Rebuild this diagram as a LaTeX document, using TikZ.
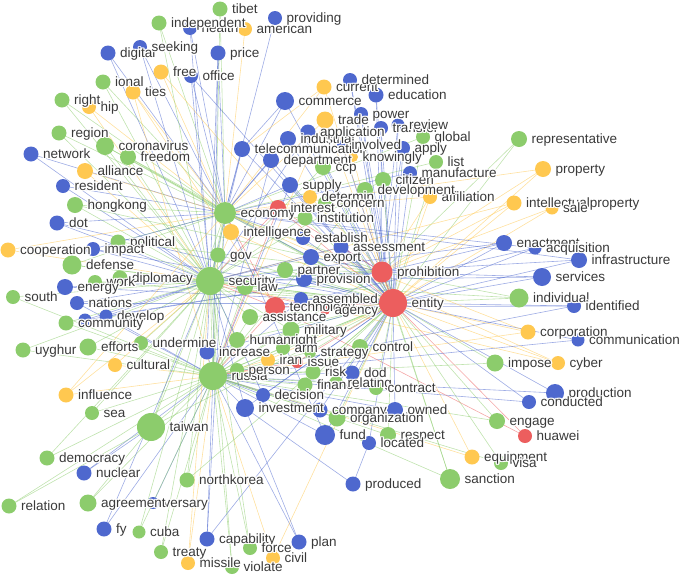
\documentclass[tikz,border=0pt]{standalone}
\usepackage{fontspec}
\setmainfont{Liberation Sans}
\usetikzlibrary{calc}
\definecolor{cG}{RGB}{140,204,108}
\definecolor{cB}{RGB}{78,104,206}
\definecolor{cY}{RGB}{255,200,80}
\definecolor{cR}{RGB}{236,94,94}
\definecolor{txt}{RGB}{58,58,58}
\pgfdeclarelayer{bg}\pgfdeclarelayer{fg}\pgfsetlayers{bg,main,fg}
\newcommand{\hlc}[3]{\rlap{\kern#1\raisebox{#2}{\textcolor{white}{#3}}}}
\newcommand{\hl}[1]{\hlc{1.4pt}{0pt}{#1}\hlc{-1.4pt}{0pt}{#1}\hlc{0pt}{1.4pt}{#1}\hlc{0pt}{-1.4pt}{#1}\hlc{1pt}{1pt}{#1}\hlc{-1pt}{1pt}{#1}\hlc{1pt}{-1pt}{#1}\hlc{-1pt}{-1pt}{#1}#1}
\tikzset{
  dotnode/.style={circle, draw=none, inner sep=0pt, outer sep=0pt},
  lbl/.style={anchor=west, inner sep=0pt, text=txt, font=\fontsize{13.5}{15}\selectfont, text height=11pt, text depth=2pt},
  edgeS/.style={line width=0.6pt, draw opacity=0.55}
}
\newcommand{\nd}[6]{%
  \node[dotnode, fill=#4, minimum size=#5*2pt] (#1) at (#2,#3) {};%
  \expandafter\gdef\csname colX#1\endcsname{#4}%
  \begin{pgfonlayer}{fg}\node[lbl] (#1-l) at ([xshift=4.5pt]#1.east) {\hl{#6}};\end{pgfonlayer}%
}
\newcommand{\E}[2]{\draw[edgeS, draw=\csname colX#1\endcsname] (#1) -- (#2);}
\begin{document}
\begin{tikzpicture}[x=1pt,y=-1pt]
\useasboundingbox (0,0) rectangle (685,576);
% hubs
\nd{economy}{225}{213}{cG}{11}{economy}
\nd{interest}{278}{208}{cR}{8}{interest}
\nd{security}{210}{281}{cG}{14}{security}
\nd{russia}{213}{376}{cG}{14}{russia}
\nd{prohibition}{382}{272}{cR}{10.5}{prohibition}
\nd{entity}{393}{303}{cR}{14}{entity}
% top left
\nd{tibet}{220}{9}{cG}{7.5}{tibet}
\nd{health}{190}{28}{cB}{7}{health}
\nd{independent}{159}{23}{cG}{7.5}{independent}
\nd{american}{245}{29}{cY}{7}{american}
\nd{providing}{275}{18}{cB}{7}{providing}
\nd{digital}{108}{53}{cB}{7.5}{digital}
\nd{seeking}{140}{47}{cB}{7}{seeking}
\nd{price}{218}{53}{cB}{7.5}{price}
\nd{office}{191}{76}{cB}{7}{office}
\nd{free}{161}{72}{cY}{7.5}{free}
\nd{ties}{133}{92}{cY}{7.5}{ties}
\nd{ional}{103}{82}{cG}{7.5}{ional}
\nd{hip}{89}{107}{cY}{7}{hip}
\nd{nright}{62}{100}{cG}{7.5}{right}
\nd{region}{59}{133}{cG}{7.5}{region}
\nd{coronavirus}{105}{146}{cG}{9}{coronavirus}
\nd{network}{31}{154}{cB}{7.5}{network}
\nd{freedom}{128}{157}{cG}{8}{freedom}
\nd{alliance}{85}{171}{cY}{8}{alliance}
\nd{resident}{63}{186}{cB}{7}{resident}
% left
\nd{hongkong}{75}{205}{cG}{8}{hongkong}
\nd{dot}{57}{223}{cB}{7.5}{dot}
\nd{political}{118}{242}{cG}{7.5}{political}
\nd{cooperation}{8}{250}{cY}{7.5}{cooperation}
\nd{impact}{93}{249}{cB}{7}{impact}
\nd{defense}{72}{265}{cG}{9.5}{defense}
\nd{diplomacy}{120}{278}{cG}{7.5}{diplomacy}
\nd{work}{95}{282}{cG}{7}{work}
\nd{energy}{65}{287}{cB}{8}{energy}
\nd{nsouth}{13}{297}{cG}{7}{south}
\nd{nations}{77}{303}{cB}{7}{nations}
\nd{develop}{106}{316}{cB}{6.5}{develop}
\node[dotnode, fill=cB, minimum size=13pt] (commc) at (85,320) {};
\expandafter\gdef\csname colXcommc\endcsname{cB}
\nd{community}{66}{323}{cG}{7.5}{community}
\nd{uyghur}{23}{350}{cG}{7.5}{uyghur}
\nd{efforts}{88}{347}{cG}{8.5}{efforts}
\nd{undermine}{141}{343}{cG}{7}{undermine}
\nd{cultural}{115}{365}{cY}{7}{cultural}
% bottom left
\nd{influence}{66}{395}{cY}{7.5}{influence}
\nd{sea}{92}{413}{cG}{7}{sea}
\nd{taiwan}{151}{427}{cG}{14}{taiwan}
\nd{democracy}{47}{458}{cG}{7.5}{democracy}
\nd{nuclear}{84}{473}{cB}{7.5}{nuclear}
\nd{northkorea}{187}{480}{cG}{7.5}{northkorea}
\nd{relation}{9}{506}{cG}{7.5}{relation}
\nd{anniv}{153}{503}{cB}{6}{versary}
\nd{agreement}{88}{503}{cG}{8.5}{agreement}
\nd{fy}{104}{529}{cB}{7.5}{fy}
\nd{cuba}{139}{532}{cG}{6.5}{cuba}
\nd{treaty}{161}{552}{cG}{7}{treaty}
\nd{capability}{207}{539}{cB}{7.5}{capability}
\nd{missile}{188}{563}{cY}{7}{missile}
\nd{force}{250}{548}{cG}{7}{force}
\nd{violate}{232}{567}{cG}{7}{violate}
\nd{civil}{273}{558}{cY}{7}{civil}
\nd{plan}{299}{542}{cB}{7.5}{plan}
\nd{produced}{353}{484}{cB}{7.5}{produced}
% bottom centre
\nd{decision}{263}{395}{cB}{7}{decision}
\nd{investment}{245}{408}{cB}{9}{investment}
\nd{finance}{305}{385}{cG}{7.5}{finance}
\nd{relating}{336}{383}{cG}{7}{relating}
\nd{contract}{376}{388}{cG}{7}{contract}
\nd{company}{320}{410}{cB}{7.5}{company}
\nd{organization}{337}{418}{cG}{8.5}{organization}
\nd{owned}{395}{410}{cB}{8}{owned}
\nd{fund}{325}{435}{cB}{10}{fund}
\nd{respect}{388}{435}{cG}{8}{respect}
\nd{located}{369}{443}{cB}{7}{located}
% centre
\nd{gov}{218}{255}{cG}{7.5}{gov}
\nd{law}{245}{287}{cG}{8}{law}
\nd{intelligence}{231}{232}{cY}{8}{intelligence}
\nd{institution}{305}{218}{cG}{7.5}{institution}
\nd{establish}{303}{238}{cB}{7}{establish}
\nd{assessment}{341}{247}{cB}{7.5}{assessment}
\nd{export}{311}{257}{cB}{8}{export}
\nd{partner}{285}{270}{cG}{8}{partner}
\nd{provision}{304}{279}{cB}{8}{provision}
\nd{technology}{275}{307}{cR}{10}{technology}
\nd{assembled}{301}{299}{cB}{7}{assembled}
\nd{agency}{325}{310}{cR}{5}{agency}
\nd{assistance}{250}{317}{cG}{8}{assistance}
\nd{military}{291}{330}{cG}{8.5}{military}
\nd{humanright}{237}{340}{cG}{8}{humanright}
\nd{increase}{207}{352}{cB}{7.5}{increase}
\nd{arm}{283}{348}{cG}{7}{arm}
\nd{strategy}{310}{352}{cG}{6}{strategy}
\nd{control}{360}{347}{cG}{8}{control}
\nd{iran}{268}{360}{cY}{7}{iran}
\nd{issue}{297}{362}{cR}{6}{issue}
\nd{person}{237}{370}{cG}{7}{person}
\nd{risk}{313}{372}{cG}{7.5}{risk}
\nd{dod}{352}{373}{cB}{7.5}{dod}
% top middle
\nd{commerce}{285}{101}{cB}{9}{commerce}
\nd{current}{324}{87}{cY}{7.5}{current}
\nd{determined}{350}{80}{cB}{7}{determined}
\nd{education}{376}{95}{cB}{7.5}{education}
\nd{trade}{325}{120}{cY}{8.5}{trade}
\nd{power}{361}{114}{cB}{7}{power}
\nd{transfer}{381}{128}{cB}{7}{transfer}
\nd{global}{423}{137}{cG}{7}{global}
\nd{review}{398}{125}{cB}{6.5}{review}
\nd{industrial}{288}{139}{cB}{8}{industrial}
\nd{application}{308}{132}{cB}{7.5}{application}
\nd{telecom}{242}{149}{cB}{8}{telecommunication}
\nd{department}{271}{160}{cB}{8}{department}
\nd{ccp}{323}{167}{cG}{8}{ccp}
\nd{involved}{342}{145}{cB}{5}{involved}
\nd{knowingly}{353}{157}{cY}{5}{knowingly}
\nd{apply}{403}{148}{cB}{7}{apply}
\nd{list}{436}{162}{cG}{7}{list}
\nd{citizen}{383}{180}{cG}{8}{citizen}
\nd{manufacture}{410}{173}{cB}{7}{manufacture}
\nd{supply}{290}{185}{cB}{8}{supply}
\nd{affiliation}{430}{197}{cY}{7}{affiliation}
\nd{determin}{310}{197}{cY}{7}{determin}
\nd{concern}{325}{203}{cG}{7}{concern}
\nd{development}{365}{190}{cG}{8}{development}
% right
\nd{representative}{519}{139}{cG}{8}{representative}
\nd{property}{543}{169}{cY}{8}{property}
\nd{intellectualproperty}{514}{203}{cY}{7.5}{intellectualproperty}
\nd{sale}{552}{208}{cY}{6.5}{sale}
\nd{enactment}{504}{243}{cB}{8}{enactment}
\nd{acquisition}{535}{248}{cB}{6.5}{acquisition}
\nd{infrastructure}{579}{260}{cB}{8}{infrastructure}
\nd{services}{542}{277}{cB}{9}{services}
\nd{individual}{519}{298}{cG}{9.5}{individual}
\nd{identified}{574}{306}{cB}{7}{identified}
\nd{corporation}{528}{332}{cY}{7.5}{corporation}
\nd{communication}{578}{340}{cB}{6.5}{communication}
\nd{impose}{495}{363}{cG}{8.5}{impose}
\nd{cyber}{558}{363}{cY}{7}{cyber}
\nd{production}{555}{393}{cB}{9}{production}
\nd{conducted}{529}{402}{cB}{7}{conducted}
\nd{engage}{497}{421}{cG}{8}{engage}
\nd{huawei}{525}{436}{cR}{7}{huawei}
\nd{equipment}{472}{457}{cY}{7.5}{equipment}
\nd{visa}{501}{463}{cG}{7}{visa}
\nd{sanction}{450}{479}{cG}{10}{sanction}
% edges
\begin{pgfonlayer}{bg}
\foreach \a/\b in {
 tibet/economy, independent/economy, health/economy, american/economy, providing/economy, seeking/economy, digital/economy, price/economy, free/economy, office/economy, ional/economy, ties/economy, nright/economy, hip/economy, region/economy, coronavirus/economy, network/economy, freedom/economy, alliance/economy, resident/economy,
 coronavirus/security, freedom/security, alliance/security, region/security, ional/security, digital/security, nright/security, network/security, hip/security, ties/russia, free/interest, health/security, seeking/security, price/security, office/security, independent/security, tibet/russia, coronavirus/entity, freedom/entity, ties/technology, office/entity, price/russia,
 hongkong/security, dot/security, cooperation/security, impact/security, political/security, defense/security, energy/security, work/security, diplomacy/security, nsouth/security, nations/security, community/security, commc/security, develop/security, uyghur/security, efforts/security, undermine/security, cultural/security,
 hongkong/economy, dot/economy, cooperation/economy, political/economy, defense/economy, impact/economy, resident/security,
 uyghur/russia, efforts/russia, undermine/russia, cultural/russia, community/russia, nsouth/russia, nations/russia, develop/russia, influence/security,
 energy/entity, nations/entity, dot/entity, diplomacy/entity, defense/entity, impact/entity, commc/prohibition, develop/prohibition, hongkong/prohibition, political/prohibition, work/entity,
 influence/russia, sea/russia, taiwan/russia, democracy/russia, nuclear/russia, relation/russia, agreement/russia, anniv/russia, fy/russia, cuba/russia, treaty/russia, missile/russia, capability/russia, northkorea/russia, force/russia, violate/russia, civil/russia, plan/russia,
 taiwan/security, taiwan/economy, sea/security, influence/economy, relation/taiwan, nuclear/taiwan, agreement/taiwan, cuba/security, northkorea/security, missile/security, treaty/security, capability/economy, violate/security, force/security, civil/entity, fy/security, democracy/security, northkorea/entity, capability/entity, plan/investment,
 representative/entity, property/entity, intellectualproperty/entity, sale/entity, affiliation/entity, enactment/entity, acquisition/entity, infrastructure/entity, services/entity, individual/entity, identified/entity, corporation/entity, communication/entity, impose/entity, cyber/entity, production/entity, conducted/entity, engage/entity, huawei/entity, equipment/entity, visa/entity, sanction/entity,
 representative/prohibition, property/prohibition, intellectualproperty/prohibition, sale/prohibition, affiliation/prohibition, affiliation/economy, enactment/security, enactment/prohibition, acquisition/technology, infrastructure/security, services/security, services/prohibition, individual/security, individual/prohibition, identified/technology, corporation/russia, corporation/economy, communication/russia, impose/russia, cyber/security, production/russia, conducted/russia, engage/russia, huawei/technology, equipment/russia, visa/russia, sanction/russia, sanction/prohibition, property/economy, intellectualproperty/security, acquisition/economy, infrastructure/economy, identified/russia, cyber/economy,
 commerce/economy, commerce/entity, commerce/telecom, current/entity, current/economy, determined/entity, education/entity, education/prohibition, trade/economy, trade/entity, power/entity, transfer/entity, review/entity, global/entity, global/economy, application/entity, application/security, industrial/economy, industrial/entity, telecom/economy, telecom/entity, telecom/security, involved/entity, department/economy, department/entity, ccp/entity, ccp/security, apply/entity, list/entity, list/economy, knowingly/prohibition, manufacture/entity, manufacture/economy, citizen/entity, citizen/security, development/entity, development/russia, supply/entity, supply/economy, determin/prohibition, concern/entity, concern/security, institution/entity, institution/economy, determined/prohibition, power/prohibition, review/prohibition, transfer/prohibition, apply/prohibition, current/telecom, trade/russia, department/russia, supply/russia, application/prohibition,
 gov/economy, gov/entity, law/security, law/entity, law/russia, intelligence/economy, intelligence/entity, intelligence/security, interest/economy, interest/entity, interest/security, interest/russia, establish/entity, establish/economy, assessment/entity, assessment/security, export/entity, export/economy, export/security, partner/entity, partner/security, provision/entity, provision/security, assembled/entity, assembled/russia, technology/entity, technology/security, technology/economy, technology/russia, agency/entity, agency/security, assistance/entity, assistance/security, assistance/russia, military/entity, military/security, military/russia, humanright/security, humanright/russia, humanright/entity, increase/russia, increase/security, increase/entity, arm/russia, arm/entity, strategy/russia, strategy/entity, control/entity, control/russia, iran/russia, iran/entity, issue/russia, issue/entity, person/russia, person/entity, risk/russia, risk/entity, dod/russia, dod/entity, export/prohibition, provision/prohibition, partner/prohibition, assessment/prohibition, gov/security, gov/russia,
 decision/russia, decision/entity, investment/russia, investment/entity, company/russia, company/entity, organization/russia, organization/entity, owned/entity, owned/russia, fund/russia, fund/entity, located/entity, located/produced, respect/entity, respect/russia, finance/russia, finance/entity, relating/russia, relating/entity, contract/entity, produced/investment, fund/economy, investment/security, decision/security,
 economy/security, economy/russia, security/russia, economy/entity, security/entity, russia/entity, prohibition/entity, economy/prohibition, security/prohibition, russia/prohibition, interest/prohibition, taiwan/entity}
 {\E{\a}{\b}}
\end{pgfonlayer}
\end{tikzpicture}
\end{document}
